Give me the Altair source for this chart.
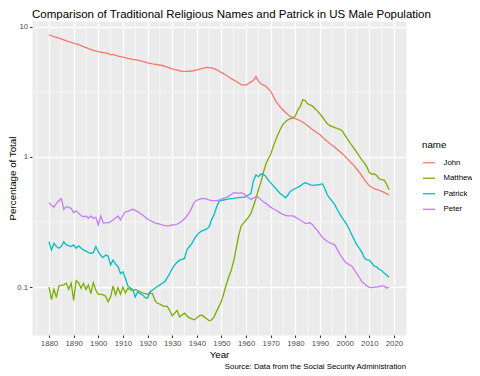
import altair as alt
import pandas as pd

title_text = "Comparison of Traditional Religious Names and Patrick in US Male Population"
caption_text = "Source: Data from the Social Security Administration"
names = ["John", "Matthew", "Patrick", "Peter"]
colors = ["#F8766D", "#7CAE00", "#00BFC4", "#C77CFF"]

x_major = [1880, 1890, 1900, 1910, 1920, 1930, 1940, 1950, 1960, 1970,
           1980, 1990, 2000, 2010, 2020]
x_minor = [1875, 1885, 1895, 1905, 1915, 1925, 1935, 1945, 1955, 1965,
           1975, 1985, 1995, 2005, 2015]
y_major = [0.1, 1, 10]
y_minor = [0.3162, 3.162]

john_years = [1880, 1882, 1884, 1886, 1888, 1890, 1892, 1894, 1896, 1898,
              1900, 1902, 1904, 1905, 1906, 1908, 1910, 1912, 1914, 1916,
              1918, 1920, 1922, 1924, 1926, 1928, 1930, 1932, 1934, 1936,
              1938, 1940, 1942, 1944, 1946, 1948, 1950, 1952, 1954, 1956,
              1958, 1960, 1962, 1963, 1964, 1965, 1966, 1968, 1970, 1972,
              1974, 1976, 1978, 1980, 1982, 1984, 1986, 1988, 1990, 1992,
              1994, 1996, 1998, 2000, 2002, 2004, 2006, 2008, 2010, 2012,
              2014, 2016, 2018]
john_pct = [8.7, 8.4, 8.2, 7.95, 7.7, 7.5, 7.3, 7.05, 6.8, 6.6,
            6.45, 6.35, 6.25, 6.1, 6.15, 5.95, 5.85, 5.72, 5.62, 5.55,
            5.42, 5.3, 5.2, 5.12, 5.05, 4.9, 4.75, 4.65, 4.55, 4.55,
            4.58, 4.68, 4.78, 4.88, 4.85, 4.7, 4.45, 4.25, 4.0, 3.8,
            3.6, 3.57, 3.78, 3.88, 4.15, 3.85, 3.65, 3.5, 3.2, 2.7,
            2.4, 2.2, 2.04, 1.97, 1.9, 1.8, 1.68, 1.57, 1.48, 1.36,
            1.27, 1.19, 1.1, 1.02, 0.93, 0.85, 0.76, 0.67, 0.6, 0.57,
            0.555, 0.535, 0.51]

years = list(range(1880, 2019))
matthew_pct = [
    0.100, 0.080, 0.096, 0.083, 0.102, 0.103, 0.104, 0.107, 0.096, 0.107,
    0.079, 0.112, 0.108, 0.098, 0.107, 0.096, 0.104, 0.089, 0.108, 0.095,
    0.088, 0.088, 0.087, 0.085, 0.077, 0.084, 0.102, 0.087, 0.099, 0.088,
    0.100, 0.090, 0.098, 0.095, 0.094, 0.096, 0.094, 0.092, 0.090, 0.089,
    0.088, 0.090, 0.089, 0.079, 0.075, 0.074, 0.072, 0.071, 0.071, 0.066,
    0.060, 0.063, 0.066, 0.059, 0.061, 0.063, 0.060, 0.058, 0.057, 0.056,
    0.058, 0.060, 0.061, 0.059, 0.057, 0.055, 0.056, 0.059, 0.065, 0.071,
    0.078, 0.090, 0.105, 0.120, 0.135, 0.160, 0.200, 0.250, 0.295, 0.310,
    0.328, 0.345, 0.370, 0.420, 0.480, 0.560, 0.640, 0.760, 0.880, 0.970,
    1.05, 1.20, 1.35, 1.50, 1.65, 1.78, 1.87, 1.93, 1.97, 2.00,
    2.07, 2.30, 2.45, 2.75, 2.72, 2.56, 2.52, 2.45, 2.35, 2.25,
    2.14, 2.02, 1.90, 1.80, 1.74, 1.71, 1.68, 1.66, 1.63, 1.59,
    1.48, 1.39, 1.30, 1.22, 1.15, 1.08, 1.01, 0.95, 0.90, 0.84,
    0.76, 0.74, 0.74, 0.72, 0.68, 0.67, 0.665, 0.62, 0.56]
patrick_pct = [
    0.223, 0.193, 0.217, 0.205, 0.199, 0.205, 0.223, 0.211, 0.208, 0.205,
    0.211, 0.199, 0.207, 0.200, 0.193, 0.189, 0.184, 0.182, 0.184, 0.205,
    0.187, 0.175, 0.169, 0.176, 0.173, 0.148, 0.161, 0.150, 0.144, 0.127,
    0.131, 0.117, 0.102, 0.098, 0.096, 0.084, 0.092, 0.089, 0.087, 0.083,
    0.082, 0.092, 0.095, 0.098, 0.101, 0.104, 0.107, 0.110, 0.118, 0.127,
    0.138, 0.148, 0.155, 0.161, 0.163, 0.166, 0.193, 0.205, 0.217, 0.235,
    0.251, 0.262, 0.270, 0.274, 0.280, 0.290, 0.330, 0.360, 0.410, 0.455,
    0.465, 0.467, 0.473, 0.476, 0.479, 0.481, 0.485, 0.487, 0.489, 0.490,
    0.495, 0.510, 0.526, 0.660, 0.727, 0.705, 0.740, 0.735, 0.710, 0.660,
    0.635, 0.600, 0.575, 0.545, 0.520, 0.505, 0.486, 0.510, 0.545, 0.560,
    0.572, 0.585, 0.600, 0.620, 0.635, 0.625, 0.610, 0.605, 0.607, 0.609,
    0.615, 0.620, 0.570, 0.510, 0.480, 0.455, 0.430, 0.395, 0.365, 0.340,
    0.320, 0.300, 0.275, 0.250, 0.228, 0.210, 0.198, 0.185, 0.168, 0.162,
    0.161, 0.153, 0.145, 0.143, 0.137, 0.134, 0.128, 0.124, 0.119]
peter_pct = [
    0.445, 0.425, 0.410, 0.440, 0.460, 0.478, 0.396, 0.415, 0.410, 0.403,
    0.373, 0.386, 0.369, 0.355, 0.347, 0.352, 0.338, 0.352, 0.338, 0.344,
    0.300, 0.352, 0.312, 0.312, 0.312, 0.318, 0.328, 0.340, 0.352, 0.328,
    0.355, 0.380, 0.380, 0.390, 0.396, 0.388, 0.380, 0.368, 0.358, 0.345,
    0.332, 0.325, 0.318, 0.312, 0.308, 0.305, 0.300, 0.297, 0.295, 0.297,
    0.300, 0.302, 0.305, 0.312, 0.322, 0.335, 0.352, 0.375, 0.410, 0.450,
    0.465, 0.472, 0.479, 0.481, 0.475, 0.467, 0.462, 0.461, 0.461, 0.465,
    0.475, 0.482, 0.490, 0.500, 0.515, 0.532, 0.530, 0.526, 0.532, 0.520,
    0.505, 0.485, 0.472, 0.485, 0.495, 0.490, 0.470, 0.453, 0.440, 0.425,
    0.410, 0.400, 0.391, 0.380, 0.370, 0.362, 0.355, 0.352, 0.352, 0.352,
    0.345, 0.335, 0.328, 0.318, 0.309, 0.310, 0.312, 0.300, 0.285, 0.271,
    0.255, 0.240, 0.232, 0.224, 0.219, 0.215, 0.211, 0.195, 0.179, 0.168,
    0.158, 0.152, 0.148, 0.144, 0.135, 0.126, 0.118, 0.110, 0.106, 0.102,
    0.0995, 0.099, 0.100, 0.100, 0.101, 0.102, 0.102, 0.098, 0.100]

rows = [{"name": "John", "year": y, "pct": v} for y, v in zip(john_years, john_pct)]
for nm, vals in [("Matthew", matthew_pct), ("Patrick", patrick_pct), ("Peter", peter_pct)]:
    rows += [{"name": nm, "year": y, "pct": v} for y, v in zip(years, vals)]
df = pd.DataFrame(rows)

FONT = "Liberation Sans"
W, H = 374, 314

x_scale = alt.Scale(domain=[1873.1, 2024.9], nice=False, zero=False)
y_scale = alt.Scale(type="log", domain=[0.0428, 11.1], nice=False)

x_axis = alt.Axis(values=x_major, format="d", title="Year", grid=True,
                  gridColor="white", gridWidth=1.26, domain=False,
                  tickColor="#333333", tickSize=2.4, tickWidth=1.1,
                  labelColor="#4D4D4D", labelFontSize=7.8, labelFont=FONT,
                  labelPadding=1.9, labelFlush=False,
                  titleFont=FONT, titleFontSize=9.75, titleFontWeight="normal",
                  titleColor="black", titleY=22, titleBaseline="alphabetic")
y_axis = alt.Axis(values=y_major, format="~g", title="Percentage of Total",
                  grid=True, gridColor="white", gridWidth=1.26, domain=False,
                  tickColor="#333333", tickSize=2.4, tickWidth=1.1,
                  labelColor="#4D4D4D", labelFontSize=7.8, labelFont=FONT,
                  labelPadding=1.9, labelFlush=False,
                  titleFont=FONT, titleFontSize=9.75, titleFontWeight="normal",
                  titleColor="black", titleX=-16.3, titleY=H / 2,
                  titleBaseline="alphabetic", titleAlign="center", titleAngle=270)

vminor = alt.Chart(pd.DataFrame({"year": x_minor})).mark_rule(
    color="white", strokeWidth=0.63).encode(
    x=alt.X("year:Q", scale=x_scale, axis=x_axis))
hminor = alt.Chart(pd.DataFrame({"pct": y_minor})).mark_rule(
    color="white", strokeWidth=0.63).encode(
    y=alt.Y("pct:Q", scale=y_scale, axis=y_axis))

lines = alt.Chart(df).mark_line(strokeWidth=1.3).encode(
    x=alt.X("year:Q", scale=x_scale, axis=x_axis),
    y=alt.Y("pct:Q", scale=y_scale, axis=y_axis),
    color=alt.Color("name:N", scale=alt.Scale(domain=names, range=colors),
                    legend=alt.Legend(title="name", orient="none",
                                      legendX=390, legendY=119,
                                      symbolType="stroke", symbolSize=144,
                                      symbolStrokeWidth=1.3,
                                      labelFont=FONT, labelFontSize=7.8,
                                      labelColor="black", labelOffset=7.5,
                                      titleFont=FONT, titleFontSize=9.75,
                                      titleFontWeight="normal", titleColor="black",
                                      titlePadding=6, rowPadding=4.5, padding=0)),
    order="year:Q",
)

caption = alt.Chart(pd.DataFrame({"caption": [caption_text]})).mark_text(
    align="right", baseline="alphabetic", font=FONT, fontSize=7.8, color="black"
).encode(x=alt.value(W), y=alt.value(347.5), text="caption:N")

title = alt.Chart(pd.DataFrame({"title": [title_text]})).mark_text(
    align="left", baseline="alphabetic", font=FONT, fontSize=11.5, color="black"
).encode(x=alt.value(0), y=alt.value(-2.6), text="title:N")

chart = alt.layer(vminor, hminor, lines, caption, title).properties(
    width=W, height=H,
    background="white",
    autosize=alt.AutoSizeParams(type="none"),
    padding={"left": 24, "top": 13, "right": 66, "bottom": 35},
).configure_view(fill="#EBEBEB", stroke="transparent")

chart.save("out.html", embed_options={"renderer": "svg", "actions": False})
